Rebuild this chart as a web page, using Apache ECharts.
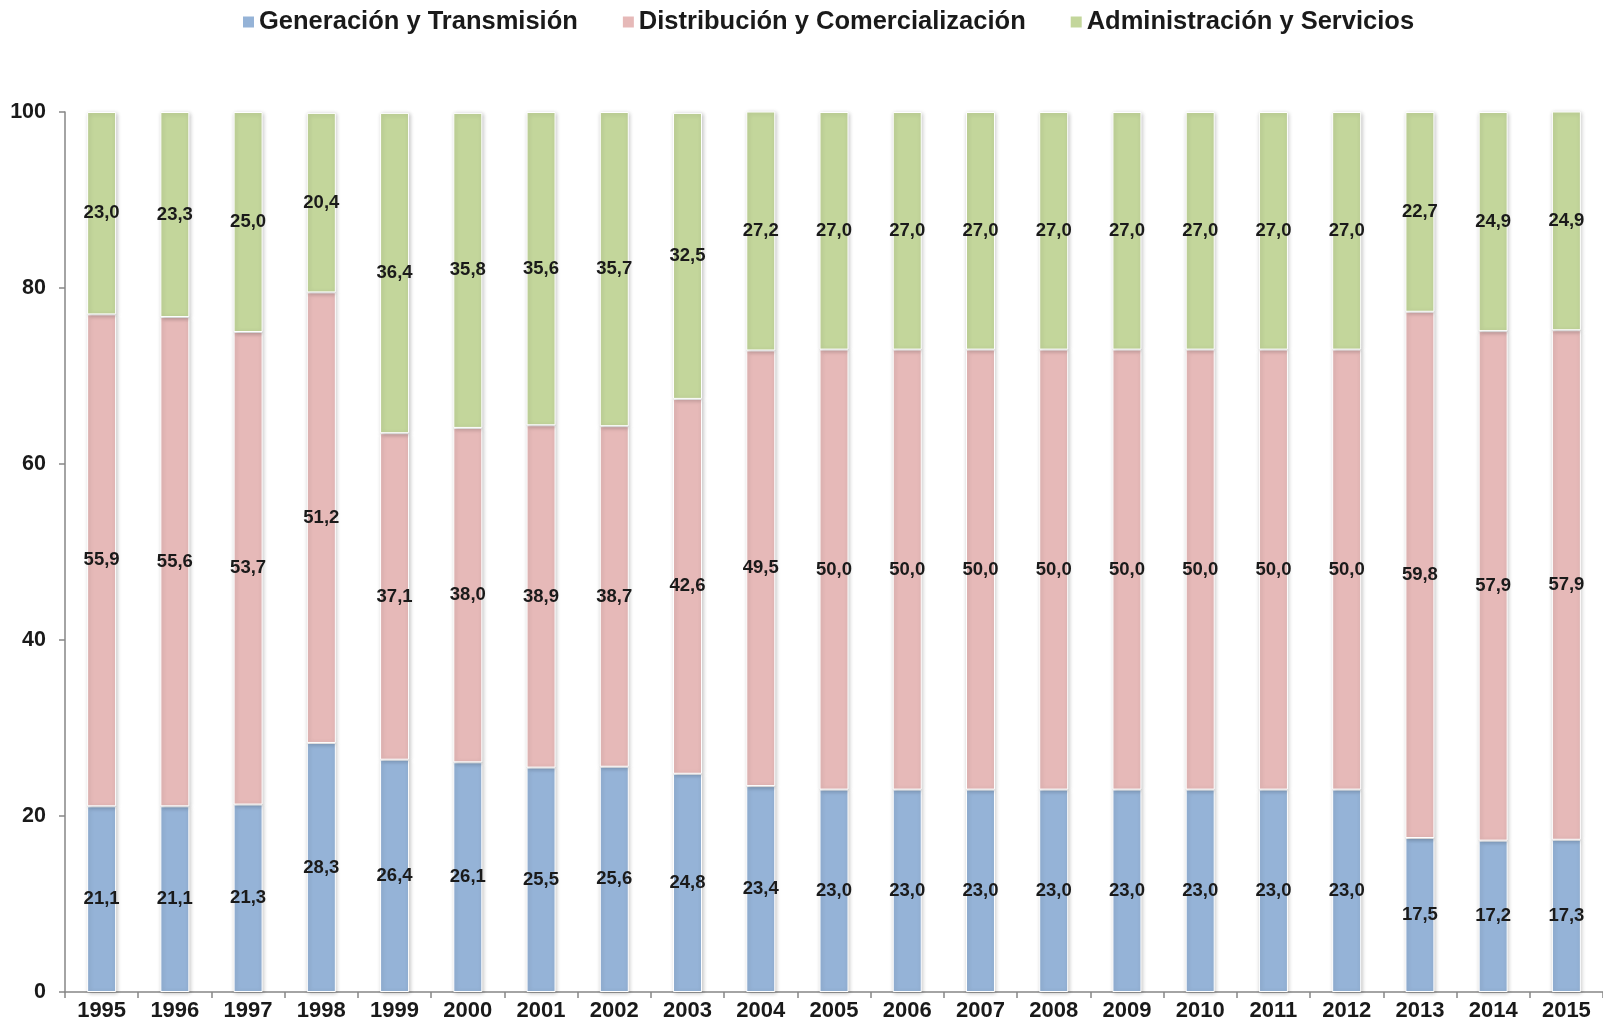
<!DOCTYPE html>
<html><head><meta charset="utf-8">
<script src="https://cdn.jsdelivr.net/npm/echarts@6/dist/echarts.min.js"></script>
<style>html,body{margin:0;padding:0;background:#fff}#c{width:1603px;height:1030px}</style>
</head><body><div id="c"></div>
<script>
const years = ['1995','1996','1997','1998','1999','2000','2001','2002','2003','2004','2005','2006','2007','2008','2009','2010','2011','2012','2013','2014','2015'];
const seriesNames = ['Generación y Transmisión','Distribución y Comercialización','Administración y Servicios'];
const generacion = [21.1,21.1,21.3,28.3,26.4,26.1,25.5,25.6,24.8,23.4,23.0,23.0,23.0,23.0,23.0,23.0,23.0,23.0,17.5,17.2,17.3];
const distribucion = [55.9,55.6,53.7,51.2,37.1,38.0,38.9,38.7,42.6,49.5,50.0,50.0,50.0,50.0,50.0,50.0,50.0,50.0,59.8,57.9,57.9];
const administracion = [23.0,23.3,25.0,20.4,36.4,35.8,35.6,35.7,32.5,27.2,27.0,27.0,27.0,27.0,27.0,27.0,27.0,27.0,22.7,24.9,24.9];
const yTicks = [0,20,40,60,80,100];

const colors = ['#95B3D7','#E6B9B8','#C3D69B'];
const font = 'Liberation Sans, Arial, sans-serif';
function mk(name, data, color){
  return {
    name, type:'bar', stack:'total', data, barWidth:29,
    itemStyle:{color, borderColor:'#ffffff', borderWidth:1,
      shadowBlur:4, shadowColor:'rgba(0,0,0,0.22)', shadowOffsetX:1, shadowOffsetY:1},
    label:{show:true, position:'inside', color:'#1a1a1a', fontFamily:font, fontWeight:'bold', fontSize:18.5,
      formatter:p=>p.value.toFixed(1).replace('.',',')},
    emphasis:{disabled:true}
  };
}
const chart = echarts.init(document.getElementById('c'));
chart.setOption({
  animation:false,
  backgroundColor:'#ffffff',
  legend:{top:4, left:238, itemWidth:11, itemHeight:11, itemGap:45, icon:'rect',
    itemStyle:{borderWidth:0, shadowBlur:0, shadowOffsetX:0, shadowOffsetY:0},
    textStyle:{fontFamily:font, fontWeight:'bold', fontSize:25.5, color:'#1a1a1a'},
    data:seriesNames},
  grid:{left:65, top:112, width:1543.5, height:880, containLabel:false},
  xAxis:{type:'category', data:years, boundaryGap:true,
    axisLine:{lineStyle:{color:'#868686', width:1.5}},
    axisTick:{show:true, length:6, lineStyle:{color:'#868686', width:1.5}},
    axisLabel:{fontFamily:font, fontWeight:'bold', fontSize:22, color:'#1a1a1a', margin:8, interval:0}},
  yAxis:{type:'value', min:0, max:100, interval:20,
    axisLine:{show:true, lineStyle:{color:'#868686', width:1.5}},
    axisTick:{show:true, length:6, lineStyle:{color:'#868686', width:1.5}},
    splitLine:{show:false},
    axisLabel:{fontFamily:font, fontWeight:'bold', fontSize:21.5, color:'#1a1a1a', margin:19,
      formatter:v=>yTicks.includes(v)?String(v):''}},
  series:[mk(seriesNames[0],generacion,colors[0]),mk(seriesNames[1],distribucion,colors[1]),mk(seriesNames[2],administracion,colors[2])]
});
</script></body></html>
